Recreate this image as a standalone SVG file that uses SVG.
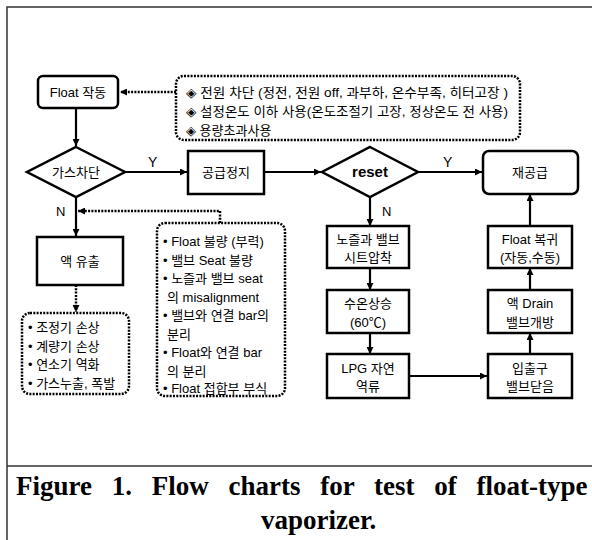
<svg xmlns="http://www.w3.org/2000/svg" width="592" height="540" viewBox="0 0 592 540">
<defs>
<style>
.box{fill:#fff;stroke:#000;stroke-width:2.5}
.dot{fill:#fff;stroke:#000;stroke-width:2.5;stroke-dasharray:2 1.3}
.ln{fill:none;stroke:#000;stroke-width:2.2}
.dl{fill:none;stroke:#000;stroke-width:2.5;stroke-dasharray:2 1.3}
.t{font-family:"Liberation Sans","Noto Sans CJK KR",sans-serif;font-size:13px;fill:#000}
.c{text-anchor:middle}
.cap{font-family:"Liberation Serif",serif;font-weight:bold;font-size:27px;fill:#000}
</style>
<marker id="ah" viewBox="0 0 10 10" refX="10" refY="5" markerWidth="7" markerHeight="7" markerUnits="userSpaceOnUse" orient="auto">
<path d="M0,0 L10,5 L0,10 z" fill="#000"/>
</marker>
</defs>
<rect width="592" height="540" fill="#fff"/>
<g id="frame" fill="none" stroke="#333" stroke-width="1.5">
<path d="M7,540 V7 H592"/>
<path d="M7,466 H592"/>
</g>
<g id="connectors">
<path class="dl" d="M176,92 H120" marker-end="url(#ah)"/>
<path class="ln" d="M76,108 V146" marker-end="url(#ah)"/>
<path class="ln" d="M125,172 H187" marker-end="url(#ah)"/>
<path class="ln" d="M264,172 H321" marker-end="url(#ah)"/>
<path class="ln" d="M418,172 H482" marker-end="url(#ah)"/>
<path class="ln" d="M76,197 V236" marker-end="url(#ah)"/>
<path class="dl" d="M220,223 V211 H78" marker-end="url(#ah)"/>
<path class="dl" d="M76,285 V312" marker-end="url(#ah)"/>
<path class="ln" d="M370,197 V226" marker-end="url(#ah)"/>
<path class="ln" d="M370,268 V290" marker-end="url(#ah)"/>
<path class="ln" d="M370,333 V354" marker-end="url(#ah)"/>
<path class="ln" d="M409,376 H487" marker-end="url(#ah)"/>
<path class="ln" d="M530,354 V333" marker-end="url(#ah)"/>
<path class="ln" d="M530,290 V268" marker-end="url(#ah)"/>
<path class="ln" d="M530,226 V194" marker-end="url(#ah)"/>
<text class="t" x="148" y="167" style="font-size:14px">Y</text>
<text class="t" x="443" y="167" style="font-size:14px">Y</text>
<text class="t" x="56" y="216">N</text>
<text class="t" x="382" y="216">N</text>
</g>
<g id="float">
<rect class="box" x="38" y="76" width="80" height="32" rx="5"/>
<text class="t c" x="78" y="97">Float 작동</text>
</g>
<g id="causes">
<rect class="dot" x="176" y="76" width="344" height="64" rx="8"/>
<text class="t" x="186" y="97" textLength="322" lengthAdjust="spacingAndGlyphs">◈ 전원 차단 (정전, 전원 off, 과부하, 온수부족, 히터고장 )</text>
<text class="t" x="186" y="116" textLength="322" lengthAdjust="spacingAndGlyphs">◈ 설정온도 이하 사용(온도조절기 고장, 정상온도 전 사용)</text>
<text class="t" x="186" y="135">◈ 용량초과사용</text>
</g>
<g id="gascut">
<path class="box" d="M76,147 L125,172 L76,197 L27,172 z"/>
<text class="t c" x="76" y="177">가스차단</text>
</g>
<g id="stop">
<rect class="box" x="188" y="151" width="76" height="43"/>
<text class="t c" x="226" y="177">공급정지</text>
</g>
<g id="reset">
<path class="box" d="M370,147 L418,172 L370,197 L322,172 z"/>
<text class="t c" x="370" y="177" style="font-weight:bold;font-size:15px">reset</text>
</g>
<g id="resupply">
<rect class="box" x="483" y="151" width="95" height="43" rx="6"/>
<text class="t c" x="530" y="177">재공급</text>
</g>
<g id="leak">
<rect class="box" x="37" y="237" width="86" height="48"/>
<text class="t c" x="80" y="266">액 유출</text>
</g>
<g id="effects">
<rect class="dot" x="22" y="313" width="107" height="81" rx="8"/>
<text class="t" x="28" y="332">• 조정기 손상</text>
<text class="t" x="28" y="351">• 계량기 손상</text>
<text class="t" x="28" y="369">• 연소기 역화</text>
<text class="t" x="28" y="388">• 가스누출, 폭발</text>
</g>
<g id="reasons">
<rect class="dot" x="157" y="223" width="128" height="173" rx="8"/>
<text class="t" x="163" y="246">• Float 불량 (부력)</text>
<text class="t" x="163" y="265">• 밸브 Seat 불량</text>
<text class="t" x="163" y="283">• 노즐과 밸브 seat</text>
<text class="t" x="167" y="302">의 misalignment</text>
<text class="t" x="163" y="320">• 밸브와 연결 bar의</text>
<text class="t" x="167" y="339">분리</text>
<text class="t" x="163" y="357">• Float와 연결 bar</text>
<text class="t" x="167" y="376">의 분리</text>
<text class="t" x="163" y="393">• Float 접합부 부식</text>
</g>
<g id="nozzle">
<rect class="box" x="327" y="226" width="82" height="42"/>
<text class="t c" x="368" y="244">노즐과 밸브</text>
<text class="t c" x="368" y="262">시트압착</text>
</g>
<g id="temp">
<rect class="box" x="327" y="290" width="82" height="43"/>
<text class="t c" x="368" y="308">수온상승</text>
<text class="t c" x="368" y="327">(60℃)</text>
</g>
<g id="lpg">
<rect class="box" x="327" y="354" width="82" height="44"/>
<text class="t c" x="368" y="373">LPG 자연</text>
<text class="t c" x="368" y="391">역류</text>
</g>
<g id="inout">
<rect class="box" x="488" y="354" width="84" height="44"/>
<text class="t c" x="530" y="373">입출구</text>
<text class="t c" x="530" y="391">밸브닫음</text>
</g>
<g id="drain">
<rect class="box" x="488" y="290" width="84" height="43"/>
<text class="t c" x="530" y="308">액 Drain</text>
<text class="t c" x="530" y="327">밸브개방</text>
</g>
<g id="floatret">
<rect class="box" x="488" y="226" width="84" height="42"/>
<text class="t c" x="530" y="244">Float 복귀</text>
<text class="t c" x="530" y="262">(자동,수동)</text>
</g>
<g id="caption">
<text class="cap" x="16" y="495" word-spacing="13">Figure 1. Flow charts for test of float-type</text>
<text class="cap" x="261" y="529">vaporizer.</text>
</g>
</svg>
